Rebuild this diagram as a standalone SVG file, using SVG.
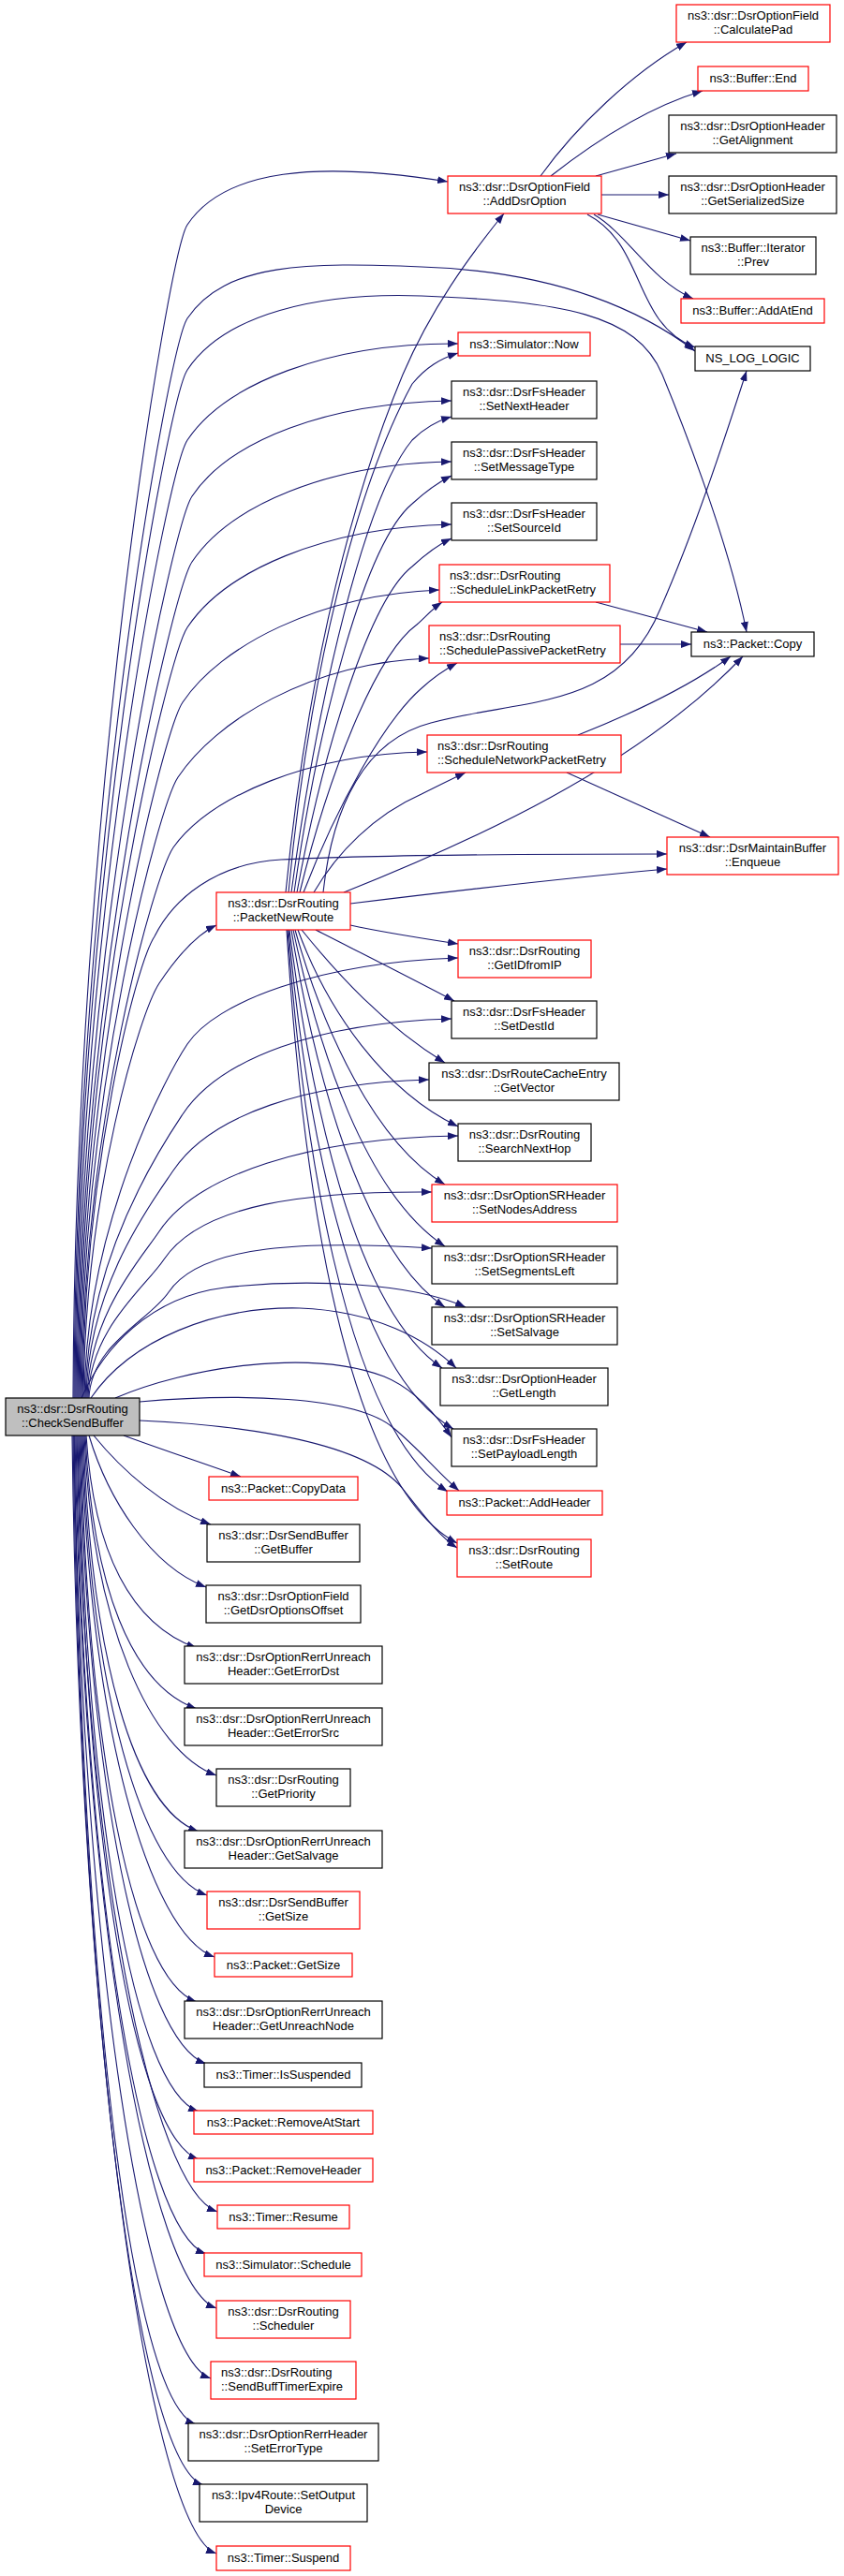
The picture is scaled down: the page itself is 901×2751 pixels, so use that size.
<svg xmlns="http://www.w3.org/2000/svg" width="901" height="2751" viewBox="0 0 901 2751">
<defs>
<marker id="arr" markerWidth="11" markerHeight="8" refX="11" refY="4" orient="auto" markerUnits="userSpaceOnUse"><path d="M0,0 L11,4 L0,8 z" fill="#191970"/></marker>
</defs>
<style>
.e path{fill:none;stroke:#191970;stroke-width:1.1;marker-end:url(#arr)}
.k rect{fill:#fff;stroke:#000;stroke-width:1.2}
.r rect{fill:#fff;stroke:#f00;stroke-width:1.2}
.g rect{fill:#bfbfbf;stroke:#000;stroke-width:1.2}
text{font-family:"Liberation Sans",Arial,Helvetica,sans-serif;font-size:13px;fill:#000;text-anchor:middle}
text.l{text-anchor:start}
</style>
<rect width="901" height="2751" fill="#fff"/>
<g id="edges" class="e">
<!-- CheckSendBuffer upward edges -->
<path d="M78,1493 C80,866 180,270 200,240 C240,180 340,172 478,194"/>
<path d="M79,1493 C81,916 180,370 200,340 C240,280 330,280 450,285 C600,290 690,335 742,375"/>
<path d="M80,1493 C82,944 180,425 200,395 C240,335 340,312 450,316 C600,322 680,335 707,400 C740,480 780,590 797,675"/>
<path d="M81,1493 C83,981 180,500 200,470 C240,410 350,366 489,367"/>
<path d="M82,1493 C84,1011 185,560 205,530 C245,470 350,430 482,428"/>
<path d="M83,1493 C85,1046 185,630 205,600 C245,540 350,495 482,493"/>
<path d="M84,1493 C86,1081 180,700 200,670 C240,610 345,563 482,560"/>
<path d="M85,1493 C87,1121 175,780 195,750 C235,690 340,635 469,630"/>
<path d="M86,1493 C88,1161 170,860 190,830 C230,770 330,708 458,703"/>
<path d="M87,1493 C89,1199 165,935 185,905 C225,850 330,805 456,803"/>
<path d="M88,1493 C90,1246 145,1030 165,1000 C185,960 230,922 300,918 C400,913 600,912 712,912"/>
<path d="M89,1493 C91,1271 150,1080 170,1050 C190,1020 210,998 231,988"/>
<path d="M90,1493 C92,1304 180,1145 200,1115 C230,1070 340,1028 489,1023"/>
<path d="M91,1493 C93,1341 175,1220 195,1190 C235,1130 340,1092 482,1088"/>
<path d="M92,1493 C94,1371 165,1280 185,1250 C225,1190 330,1156 458,1153"/>
<path d="M93,1493 C95,1404 150,1345 170,1315 C210,1255 330,1215 489,1213"/>
<path d="M94,1493 C96,1419 155,1375 175,1345 C215,1285 330,1272 461,1273"/>
<path d="M95,1493 C97,1436 160,1410 180,1380 C215,1328 330,1325 461,1333"/>
<path d="M87,1493 C110,1440 160,1385 240,1375 C330,1365 440,1370 497,1396"/>
<path d="M97,1493 C140,1430 230,1395 320,1397 C400,1400 455,1430 487,1461"/>
<path d="M123,1493 C200,1460 330,1440 410,1470 C440,1482 465,1510 482,1535"/>
<path d="M149,1497 C250,1488 380,1490 420,1525 C445,1545 465,1570 490,1592"/>
<path d="M149,1517 C260,1522 390,1540 430,1590 C450,1615 468,1640 488,1653"/>
<!-- CheckSendBuffer downward edges -->
<path d="M132,1533 C170,1547 215,1562 257,1577"/>
<path d="M100,1533 C130,1570 175,1610 225,1628"/>
<path d="M95,1533 C115,1600 160,1672 220,1695"/>
<path d="M92,1533 C100,1658 140,1735 210,1760"/>
<path d="M91,1533 C99,1694 140,1800 210,1825"/>
<path d="M90,1533 C98,1733 161,1871 231,1896"/>
<path d="M89,1533 C97,1766 142,1931 212,1956"/>
<path d="M88,1533 C96,1803 151,1999 221,2024"/>
<path d="M87,1533 C95,1839 159,2065 229,2090"/>
<path d="M86,1533 C94,1866 140,2113 210,2138"/>
<path d="M85,1533 C93,1902 150,2179 220,2204"/>
<path d="M84,1533 C92,1930 142,2230 212,2255"/>
<path d="M83,1533 C91,1958 142,2281 212,2306"/>
<path d="M82,1533 C90,1989 162,2337 232,2362"/>
<path d="M81,1533 C89,2014 150,2382 220,2407"/>
<path d="M80,1533 C88,2046 161,2440 231,2465"/>
<path d="M79,1533 C87,2087 155,2515 225,2540"/>
<path d="M79,1533 C87,2114 139,2564 209,2589"/>
<path d="M78,1533 C86,2150 147,2629 217,2654"/>
<path d="M77,1533 C85,2190 161,2702 231,2727"/>
<!-- PacketNewRoute edges -->
<path d="M305,953 C330,700 380,520 430,400 C460,330 500,275 538,228"/>
<path d="M308,953 C330,720 380,520 440,410 C455,392 470,383 489,377"/>
<path d="M311,953 C340,740 390,530 440,470 C452,458 465,450 482,445"/>
<path d="M314,953 C340,770 390,580 440,538 C452,527 466,516 482,508"/>
<path d="M317,953 C345,800 395,640 440,605 C453,593 467,582 482,575"/>
<path d="M320,953 C350,830 400,700 445,667 C455,658 463,649 472,643"/>
<path d="M324,953 C360,860 410,770 450,735 C462,724 475,715 488,708"/>
<path d="M335,953 C360,910 400,870 450,848 C466,840 482,832 497,825"/>
<path d="M345,953 C355,860 390,790 460,772 C560,745 660,760 705,650 C740,570 770,480 797,396"/>
<path d="M367,953 C500,900 680,820 793,701"/>
<path d="M374,965 C480,952 600,938 712,928"/>
<path d="M374,988 C410,996 450,1002 489,1008"/>
<path d="M337,993 C380,1015 430,1040 485,1069"/>
<path d="M322,993 C360,1040 410,1095 475,1135"/>
<path d="M318,993 C350,1080 410,1165 489,1203"/>
<path d="M315,993 C345,1100 400,1220 475,1265"/>
<path d="M313,993 C340,1120 390,1275 475,1331"/>
<path d="M311,993 C335,1140 385,1335 475,1396"/>
<path d="M309,993 C330,1160 375,1395 472,1461"/>
<path d="M308,993 C325,1180 370,1460 484,1526"/>
<path d="M307,993 C322,1200 365,1520 478,1593"/>
<path d="M306,993 C320,1220 360,1580 488,1648"/>
<!-- AddDsrOption edges -->
<path d="M577,188 C615,135 675,78 733,45"/>
<path d="M588,188 C630,155 690,115 750,97"/>
<path d="M636,188 L722,164"/>
<path d="M642,208 L714,208"/>
<path d="M638,229 L737,257"/>
<path d="M634,229 C670,250 695,300 740,319"/>
<path d="M627,229 C690,262 675,345 742,371"/>
<!-- Schedule*PacketRetry edges -->
<path d="M636,643 L755,675"/>
<path d="M662,688 L738,688"/>
<path d="M617,785 C680,760 740,730 780,701"/>
<path d="M605,825 L758,894"/>
</g>
<g id="n_calcpad" class="r"><rect x="722" y="5" width="164" height="40"/><text x="804" y="21">ns3::dsr::DsrOptionField</text><text x="804" y="36">::CalculatePad</text></g>
<g id="n_bufend" class="r"><rect x="745" y="71" width="118" height="26"/><text x="804" y="88">ns3::Buffer::End</text></g>
<g id="n_getalign" class="k"><rect x="714" y="123" width="179" height="40"/><text x="803.5" y="139">ns3::dsr::DsrOptionHeader</text><text x="803.5" y="154">::GetAlignment</text></g>
<g id="n_getser" class="k"><rect x="714" y="188" width="179" height="40"/><text x="803.5" y="204">ns3::dsr::DsrOptionHeader</text><text x="803.5" y="219">::GetSerializedSize</text></g>
<g id="n_prev" class="k"><rect x="737" y="253" width="134" height="40"/><text x="804" y="269">ns3::Buffer::Iterator</text><text x="804" y="284">::Prev</text></g>
<g id="n_addatend" class="r"><rect x="727" y="319" width="153" height="26"/><text x="803.5" y="336">ns3::Buffer::AddAtEnd</text></g>
<g id="n_nslog" class="k"><rect x="742" y="370" width="123" height="26"/><text x="803.5" y="387">NS_LOG_LOGIC</text></g>
<g id="n_copy" class="k"><rect x="738" y="675" width="131" height="26"/><text x="803.5" y="692">ns3::Packet::Copy</text></g>
<g id="n_enqueue" class="r"><rect x="712" y="894" width="183" height="40"/><text x="803.5" y="910">ns3::dsr::DsrMaintainBuffer</text><text x="803.5" y="925">::Enqueue</text></g>
<g id="n_adddsr" class="r"><rect x="478" y="188" width="164" height="40"/><text x="560" y="204">ns3::dsr::DsrOptionField</text><text x="560" y="219">::AddDsrOption</text></g>
<g id="n_now" class="r"><rect x="489" y="355" width="141" height="25"/><text x="559.5" y="372">ns3::Simulator::Now</text></g>
<g id="n_setnext" class="k"><rect x="482" y="407" width="155" height="40"/><text x="559.5" y="423">ns3::dsr::DsrFsHeader</text><text x="559.5" y="438">::SetNextHeader</text></g>
<g id="n_setmsg" class="k"><rect x="482" y="472" width="155" height="40"/><text x="559.5" y="488">ns3::dsr::DsrFsHeader</text><text x="559.5" y="503">::SetMessageType</text></g>
<g id="n_setsrc" class="k"><rect x="482" y="537" width="155" height="40"/><text x="559.5" y="553">ns3::dsr::DsrFsHeader</text><text x="559.5" y="568">::SetSourceId</text></g>
<g id="n_slpr" class="r"><rect x="469" y="603" width="182" height="40"/><text class="l" x="480" y="619">ns3::dsr::DsrRouting</text><text class="l" x="480" y="634">::ScheduleLinkPacketRetry</text></g>
<g id="n_sppr" class="r"><rect x="458" y="668" width="204" height="40"/><text class="l" x="469" y="684">ns3::dsr::DsrRouting</text><text class="l" x="469" y="699">::SchedulePassivePacketRetry</text></g>
<g id="n_snpr" class="r"><rect x="456" y="785" width="207" height="40"/><text class="l" x="467" y="801">ns3::dsr::DsrRouting</text><text class="l" x="467" y="816">::ScheduleNetworkPacketRetry</text></g>
<g id="n_getid" class="r"><rect x="489" y="1004" width="142" height="40"/><text x="560" y="1020">ns3::dsr::DsrRouting</text><text x="560" y="1035">::GetIDfromIP</text></g>
<g id="n_setdest" class="k"><rect x="482" y="1069" width="155" height="40"/><text x="559.5" y="1085">ns3::dsr::DsrFsHeader</text><text x="559.5" y="1100">::SetDestId</text></g>
<g id="n_getvec" class="k"><rect x="458" y="1135" width="203" height="40"/><text x="559.5" y="1151">ns3::dsr::DsrRouteCacheEntry</text><text x="559.5" y="1166">::GetVector</text></g>
<g id="n_search" class="k"><rect x="489" y="1200" width="142" height="40"/><text x="560" y="1216">ns3::dsr::DsrRouting</text><text x="560" y="1231">::SearchNextHop</text></g>
<g id="n_setnodes" class="r"><rect x="461" y="1265" width="198" height="40"/><text x="560" y="1281">ns3::dsr::DsrOptionSRHeader</text><text x="560" y="1296">::SetNodesAddress</text></g>
<g id="n_setseg" class="k"><rect x="461" y="1331" width="198" height="40"/><text x="560" y="1347">ns3::dsr::DsrOptionSRHeader</text><text x="560" y="1362">::SetSegmentsLeft</text></g>
<g id="n_setsalv" class="k"><rect x="461" y="1396" width="198" height="40"/><text x="560" y="1412">ns3::dsr::DsrOptionSRHeader</text><text x="560" y="1427">::SetSalvage</text></g>
<g id="n_getlen" class="k"><rect x="470" y="1461" width="179" height="40"/><text x="559.5" y="1477">ns3::dsr::DsrOptionHeader</text><text x="559.5" y="1492">::GetLength</text></g>
<g id="n_setpay" class="k"><rect x="482" y="1526" width="155" height="40"/><text x="559.5" y="1542">ns3::dsr::DsrFsHeader</text><text x="559.5" y="1557">::SetPayloadLength</text></g>
<g id="n_addhdr" class="r"><rect x="477" y="1592" width="166" height="26"/><text x="560" y="1609">ns3::Packet::AddHeader</text></g>
<g id="n_setroute" class="r"><rect x="488" y="1644" width="143" height="40"/><text x="559.5" y="1660">ns3::dsr::DsrRouting</text><text x="559.5" y="1675">::SetRoute</text></g>
<g id="n_pnr" class="r"><rect x="231" y="953" width="143" height="40"/><text x="302.5" y="969">ns3::dsr::DsrRouting</text><text x="302.5" y="984">::PacketNewRoute</text></g>
<g id="n_csb" class="g"><rect x="6" y="1493" width="143" height="40"/><text x="77.5" y="1509">ns3::dsr::DsrRouting</text><text x="77.5" y="1524">::CheckSendBuffer</text></g>
<g id="n_copydata" class="r"><rect x="223" y="1577" width="159" height="25"/><text x="302.5" y="1594">ns3::Packet::CopyData</text></g>
<g id="n_getbuffer" class="k"><rect x="221" y="1628" width="163" height="40"/><text x="302.5" y="1644">ns3::dsr::DsrSendBuffer</text><text x="302.5" y="1659">::GetBuffer</text></g>
<g id="n_getdsroff" class="k"><rect x="220" y="1693" width="165" height="40"/><text x="302.5" y="1709">ns3::dsr::DsrOptionField</text><text x="302.5" y="1724">::GetDsrOptionsOffset</text></g>
<g id="n_geterrdst" class="k"><rect x="197" y="1758" width="211" height="40"/><text x="302.5" y="1774">ns3::dsr::DsrOptionRerrUnreach</text><text x="302.5" y="1789">Header::GetErrorDst</text></g>
<g id="n_geterrsrc" class="k"><rect x="197" y="1824" width="211" height="40"/><text x="302.5" y="1840">ns3::dsr::DsrOptionRerrUnreach</text><text x="302.5" y="1855">Header::GetErrorSrc</text></g>
<g id="n_getprio" class="k"><rect x="231" y="1889" width="143" height="40"/><text x="302.5" y="1905">ns3::dsr::DsrRouting</text><text x="302.5" y="1920">::GetPriority</text></g>
<g id="n_getsalv" class="k"><rect x="197" y="1955" width="211" height="40"/><text x="302.5" y="1971">ns3::dsr::DsrOptionRerrUnreach</text><text x="302.5" y="1986">Header::GetSalvage</text></g>
<g id="n_getsize" class="r"><rect x="221" y="2020" width="163" height="40"/><text x="302.5" y="2036">ns3::dsr::DsrSendBuffer</text><text x="302.5" y="2051">::GetSize</text></g>
<g id="n_pktsize" class="r"><rect x="229" y="2086" width="147" height="25"/><text x="302.5" y="2103">ns3::Packet::GetSize</text></g>
<g id="n_unreach" class="k"><rect x="197" y="2137" width="211" height="40"/><text x="302.5" y="2153">ns3::dsr::DsrOptionRerrUnreach</text><text x="302.5" y="2168">Header::GetUnreachNode</text></g>
<g id="n_issusp" class="k"><rect x="218" y="2203" width="168" height="26"/><text x="302.5" y="2220">ns3::Timer::IsSuspended</text></g>
<g id="n_rmstart" class="r"><rect x="207" y="2254" width="191" height="25"/><text x="302.5" y="2271">ns3::Packet::RemoveAtStart</text></g>
<g id="n_rmhdr" class="r"><rect x="207" y="2305" width="191" height="25"/><text x="302.5" y="2322">ns3::Packet::RemoveHeader</text></g>
<g id="n_resume" class="r"><rect x="232" y="2355" width="141" height="25"/><text x="302.5" y="2372">ns3::Timer::Resume</text></g>
<g id="n_schedule" class="r"><rect x="218" y="2406" width="168" height="25"/><text x="302.5" y="2423">ns3::Simulator::Schedule</text></g>
<g id="n_scheduler" class="r"><rect x="231" y="2457" width="143" height="40"/><text x="302.5" y="2473">ns3::dsr::DsrRouting</text><text x="302.5" y="2488">::Scheduler</text></g>
<g id="n_sendbuff" class="r"><rect x="225" y="2522" width="155" height="40"/><text class="l" x="236" y="2538">ns3::dsr::DsrRouting</text><text class="l" x="236" y="2553">::SendBuffTimerExpire</text></g>
<g id="n_seterrtype" class="k"><rect x="201" y="2588" width="203" height="40"/><text x="302.5" y="2604">ns3::dsr::DsrOptionRerrHeader</text><text x="302.5" y="2619">::SetErrorType</text></g>
<g id="n_setoutdev" class="k"><rect x="213" y="2653" width="179" height="40"/><text x="302.5" y="2669">ns3::Ipv4Route::SetOutput</text><text x="302.5" y="2684">Device</text></g>
<g id="n_suspend" class="r"><rect x="231" y="2719" width="143" height="26"/><text x="302.5" y="2736">ns3::Timer::Suspend</text></g>
</svg>
